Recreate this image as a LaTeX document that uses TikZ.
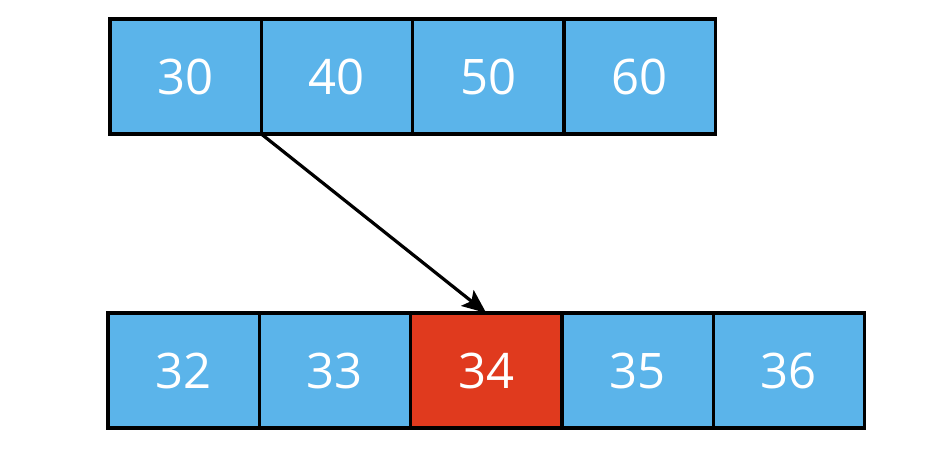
\documentclass[tikz,border=0pt]{standalone}
\usepackage{fontspec}
\setmainfont{Open Sans}
\usepackage{tikz}
\usetikzlibrary{arrows,arrows.meta,positioning}
\definecolor{cellblue}{HTML}{5BB4EA}
\definecolor{cellred}{HTML}{E03A1E}
\tikzstyle{cell}=[draw,fill=cellblue,text=white,minimum width=151.3pt,minimum height=115pt,inner sep=0pt,outer sep=0pt,font=\fontsize{49}{55}\selectfont]
\tikzstyle{hit}=[cell,fill=cellred]

\begin{document}
\begin{tikzpicture}[line width=3.2pt,x=1pt,y=1pt]
\useasboundingbox (0,0) rectangle (934,-466);
% top row
\node [cell,anchor=north west] (t30) at (110,-19) {30};
\node [cell,right=0pt of t30] (t40) {40};
\node [cell,right=0pt of t40] (t50) {50};
\node [cell,right=0pt of t50] (t60) {60};
% bottom row
\node [cell,anchor=north west] (b32) at (108,-313) {32};
\node [cell,right=0pt of b32] (b33) {33};
\node [hit,right=0pt of b33] (b34) {34};
\node [cell,right=0pt of b34] (b35) {35};
\node [cell,right=0pt of b35] (b36) {36};
\draw [-{Stealth[length=24pt,width=20pt,inset=5pt]}] (t30.south east) -- (b34.north);
\end{tikzpicture}
\end{document}
